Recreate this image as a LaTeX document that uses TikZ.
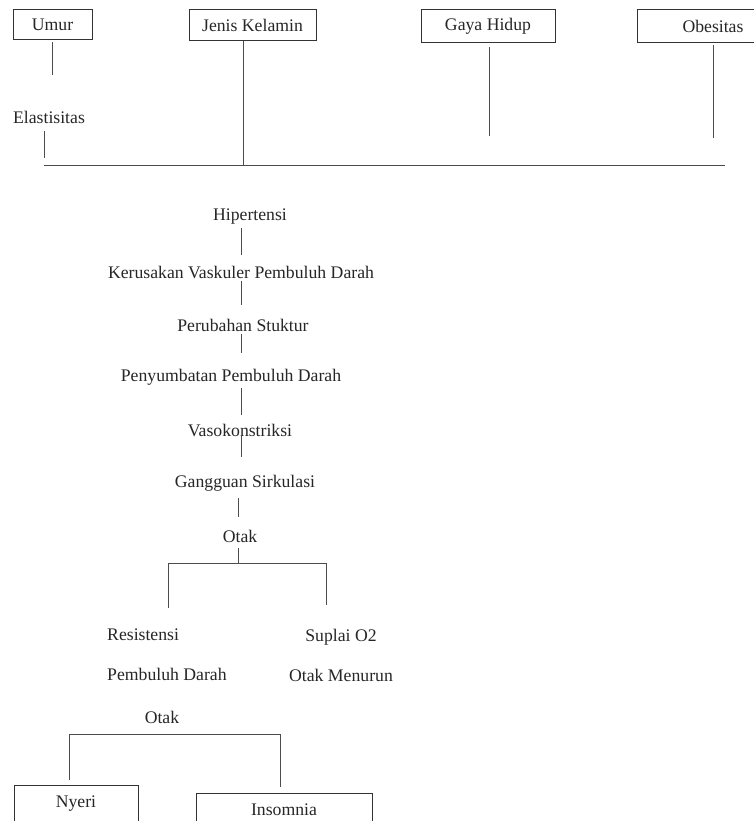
\documentclass[tikz,border=0pt]{standalone}
\usepackage{fontspec}
\setmainfont{Liberation Serif}

\tikzset{
  box/.style={draw=black!80, line width=1pt, inner sep=0pt},
  lowbox/.style={draw=black!80, line width=1pt, inner sep=0pt, anchor=north, text height=22pt, text depth=40pt},
  word/.style={inner sep=3pt},
  twoline/.style={inner sep=3pt, font=\fontsize{17.7}{40}\selectfont},
  link/.style={draw=black!70, line width=0.8pt}
}

\begin{document}
\begin{tikzpicture}[x=1pt, y=-1pt, font=\fontsize{17.7}{21}\selectfont, text=black!85]
\clip (0,0) rectangle (754,821);
% faktor risiko
\node [box, minimum width=79pt, minimum height=30pt] (umur) at (52.5,25) {Umur};
\node [box, minimum width=127pt, minimum height=31pt] (jenis) at (252.5,25.5) {Jenis Kelamin};
\node [box, minimum width=134pt, minimum height=33pt] (gaya) at (488,26.5) {Gaya Hidup};
\node [box, minimum width=152pt, minimum height=33pt] (obes) at (713,26.5) {Obesitas};
\node [word] (elast) at (49,117) {Elastisitas};
\coordinate (busL) at (44,165);
\coordinate (busR) at (725,165);
\draw [link, shorten <=2pt, shorten >=33pt] (umur.south) -- (umur.south |- elast.north);
\draw [link, shorten <=5pt, shorten >=7pt] ([xshift=-5pt]elast.south) -- ([xshift=-5pt]elast.south |- busL);
\draw [link] (busL) -- (busR);
\draw [link] ([xshift=-9.5pt]jenis.south) -- ([xshift=-9.5pt]jenis.south |- busL);
\draw [link, shorten <=4pt, shorten >=29pt] ([xshift=1pt]gaya.south) -- ([xshift=1pt]gaya.south |- busL);
\draw [link, shorten <=2pt, shorten >=27pt] (obes.south) -- (obes.south |- busL);
% alur hipertensi
\coordinate (sp) at (241,0);
\node [word] (hip) at (250,217) {Hipertensi};
\node [word] (ker) at (241,272) {Kerusakan Vaskuler Pembuluh Darah};
\node [word] (per) at (243,325) {Perubahan Stuktur};
\node [word] (pen) at (231,377) {Penyumbatan Pembuluh Darah};
\node [word] (vas) at (240,430) {Vasokonstriksi};
\node [word] (gan) at (245,483) {Gangguan Sirkulasi};
\node [word] (otak) at (240,536) {Otak};
\draw [link, shorten >=8pt] (hip.south -| sp) -- (ker.north -| sp);
\draw [link, shorten >=11pt] (ker.south -| sp) -- (per.north -| sp);
\draw [link, shorten >=13pt] (per.south -| sp) -- (pen.north -| sp);
\draw [link, shorten >=6pt] (pen.south -| sp) -- (vas.north -| sp);
\draw [link, shorten <=-4pt, shorten >=15pt] (vas.south -| sp) -- (gan.north -| sp);
\draw [link, shorten <=4pt, shorten >=10pt] ([xshift=-3pt]gan.south -| sp) -- ([xshift=-3pt]otak.north -| sp);
% cabang otak
\coordinate (brL) at (168,563);
\coordinate (brR) at (326,563);
\node [twoline, align=left, anchor=north west] (res) at (104,626) {Resistensi\\Pembuluh Darah};
\node [twoline, align=center, anchor=north] (sup) at (341,626) {Suplai O2\\Otak Menurun};
\draw [link, shorten <=3pt] ([xshift=-2pt]otak.south) -- ([xshift=-2pt]otak.south |- brL);
\draw [link] (brL) -- (brR);
\draw [link, shorten >=18pt] (brL) -- (brL |- res.north);
\draw [link, shorten >=21pt] (brR) -- (brR |- sup.north);
% dampak
\node [word] (otakb) at (162,717) {Otak};
\coordinate (bbL) at (69,734);
\coordinate (bbR) at (280,734);
\node [lowbox, minimum width=124pt] (nyeri) at (76,785) {Nyeri};
\node [lowbox, minimum width=176pt] (insom) at (284,793) {Insomnia};
\draw [link] (bbL) -- (bbR);
\draw [link, shorten >=5pt] (bbL) -- (bbL |- nyeri.north);
\draw [link, shorten >=6pt] (bbR) -- (bbR |- insom.north);
\end{tikzpicture}
\end{document}
